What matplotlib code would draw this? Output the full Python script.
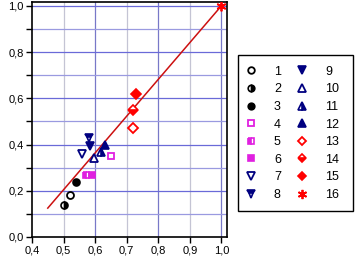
import matplotlib
matplotlib.use("Agg")
import matplotlib.pyplot as plt
from matplotlib.patches import Rectangle
from matplotlib.ticker import MultipleLocator, FuncFormatter

plt.rcParams['font.family'] = ['Liberation Sans', 'DejaVu Sans']

labels = [str(i) for i in range(1, 17)]
xs = [0.52, 0.50, 0.54, 0.65, 0.57, 0.59, 0.56, 0.58, 0.585, 0.595, 0.62, 0.63, 0.72, 0.72, 0.73, 1.00]
ys = [0.18, 0.14, 0.24, 0.35, 0.27, 0.27, 0.36, 0.43, 0.395, 0.34, 0.37, 0.40, 0.47, 0.55, 0.62, 1.00]
markers = ['o', 'o', 'o', 's', 's', 's', 'v', 'v', 'v', '^', '^', '^', 'D', 'D', 'D', '*']
fills = ['none', 'right', 'full', 'none', 'left', 'full', 'none', 'top', 'full',
         'none', 'right', 'full', 'none', 'bottom', 'full', 'full']
colors = ['black'] * 3 + ['#e020e0'] * 3 + ['#000080'] * 6 + ['#ff0000'] * 4

line_x = [0.45, 1.0]
line_y = [0.125, 1.0]

fig = plt.figure(figsize=(3.56, 2.67), dpi=100)
ax = fig.add_axes([0.0899, 0.1124, 0.5477, 0.880])

ax.plot(line_x, line_y, color='#cc1010', lw=1.1, zorder=3)

handles = []
for x, y, m, f, c, lab in zip(xs, ys, markers, fills, colors, labels):
    if m == '*':
        h, = ax.plot([x], [y], marker=(6, 2, 0), ms=7, color=c, mew=1.3, ls='none', zorder=4, label=lab)
    else:
        ms = 5 if m in ('o', 's') else 5.5
        if m == 'D':
            ms = 4.8
        if f == 'none':
            h, = ax.plot([x], [y], marker=m, ms=ms, mfc='white', mec=c, mew=1.3, ls='none', zorder=4, label=lab)
        else:
            h, = ax.plot([x], [y], marker=m, ms=ms, fillstyle=f, mfc=c, mfcalt='white', mec=c, mew=1.2,
                         ls='none', zorder=4, label=lab)
    handles.append(h)

ax.set_xlim(0.4, 1.018)
ax.set_ylim(0.0, 1.017)
ax.xaxis.set_major_locator(MultipleLocator(0.1))
ax.yaxis.set_major_locator(MultipleLocator(0.2))
ax.yaxis.set_minor_locator(MultipleLocator(0.1))
fmt = FuncFormatter(lambda v, p: f"{v:.1f}".replace('.', ','))
ax.xaxis.set_major_formatter(fmt)
ax.yaxis.set_major_formatter(fmt)
ax.tick_params(axis='both', which='major', direction='out', length=4, width=1, labelsize=8, pad=2)
ax.tick_params(axis='y', which='minor', direction='out', length=4, width=1)

# grid lines
for v in [0.5, 0.7, 0.9]:
    ax.axvline(v, color='#c4c4d4', lw=0.9, zorder=1)
for v in [0.6, 0.8, 1.0]:
    ax.axvline(v, color='#7878c8', lw=0.9, zorder=1)
for v in [0.1, 0.3, 0.5, 0.7, 0.9]:
    ax.axhline(v, color='#9a9ae0', lw=0.9, zorder=1)
for v in [0.2, 0.4, 0.6, 0.8, 1.0]:
    ax.axhline(v, color='#6a6ad8', lw=0.9, zorder=1)

for s in ax.spines.values():
    s.set_linewidth(1.2)
    s.set_color('black')

# legend frame drawn separately
fig.patches.append(Rectangle((0.6677, 0.2109), 0.3239, 0.583, transform=fig.transFigure,
                             facecolor='white', edgecolor='black', lw=1.0, zorder=0))

leg = fig.legend(handles=handles, labels=labels, ncol=2, loc='upper left',
                 bbox_to_anchor=(247.25 / 356, 0.754), bbox_transform=fig.transFigure,
                 borderaxespad=0, borderpad=0, frameon=False,
                 fontsize=9, labelspacing=0.45, columnspacing=1.4, handletextpad=1.54,
                 handlelength=0.6, markerscale=0.95)

fig.savefig('out.png', dpi=100)
